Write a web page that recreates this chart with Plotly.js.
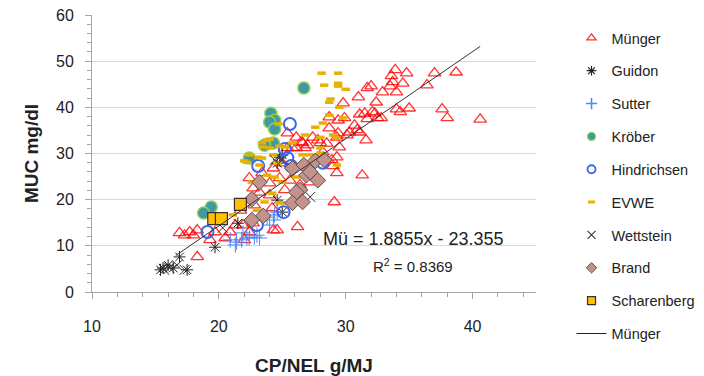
<!DOCTYPE html>
<html><head><meta charset="utf-8">
<script src="https://cdn.plot.ly/plotly-3.0.1.min.js"></script>
<style>html,body{margin:0;padding:0;background:#fff}#chart{width:704px;height:376px}</style>
</head><body><div id="chart"></div>
<script>
// ---- data ----
const mungerX = [33.9,33.6,34.8,37.0,38.7,33.7,34.5,33.5,34.0,32.9,31.7,32.0,36.4,31.0,32.4,29.8,34.0,35.0,37.6,38.0,40.6,31.1,31.5,32.3,32.8,29.4,29.9,28.7,30.7,31.6,29.4,29.3,30.1,29.5,30.9,30.3,28.5,27.8,27.0,26.1,25.4,25.8,28.2,29.3,28.9,29.3,31.3,29.0,29.1,26.2,31.7,31.1,32.5,34.3,32.1,28.7,26.5,26.8,26.1,25.4,26.6,28.0,27.4,
  16.9,17.7,18.0,18.3,17.3,18.3,19.7,20.9,20.5,21.3,21.9,22.7,22.4,24.6,24.3,23.2,24.2,24.0,22.7,24.0,24.8,23.4,24.3,22.4,25.0,25.6,26.4,25.2,27.2,21.7,22.8,23.4,22.0,19.3];
const mungerY = [48.1,46.8,47.4,47.4,47.6,45.5,45.2,44.6,43.3,43.3,44.2,44.6,44.8,42.2,41.1,40.9,39.6,39.8,39.6,37.7,37.4,38.5,38.7,38.7,37.7,37.2,37.7,37.9,36.1,32.9,34.4,33.5,34.0,31.4,35.1,34.6,32.2,32.9,31.8,33.5,34.4,31.2,30.3,29.2,28.6,25.8,25.3,27.3,19.5,14.1,37.5,34.6,37.7,39.0,39.0,35.5,32.5,31.2,31.2,31.2,32.3,32.3,33.5,
  12.8,13.0,12.3,13.4,12.3,7.6,13.0,13.0,11.7,14.5,14.5,14.9,13.0,13.4,13.4,21.6,18.2,21.0,22.5,23.6,24.7,25.8,26.8,24.7,27.9,24.2,23.2,22.1,23.8,17.7,18.8,16.7,11.3,11.3];

const guidonX = [15.6,16.0,16.4,16.9,17.5,15.4,19.7,21.5,24.8,24.6,25.0,24.6,25.0];
const guidonY = [5.2,5.8,5.2,7.6,4.8,4.8,9.7,14.9,29.2,27.9,29.7,19.9,17.3];

const sutterX = [20.9,21.3,21.4,21.8,22.2,22.4,22.8,23.2,21.9,23.0,23.8,24.0,24.4,24.6,24.3];
const sutterY = [11.3,10.2,10.8,11.3,11.7,11.7,11.9,11.7,12.8,12.3,16.2,14.5,16.7,17.3,15.6];

const kroeberX = [26.7,24.1,24.4,24.0,24.4,24.3,23.6,22.4,19.4,18.8];
const kroeberY = [44.2,38.7,37.2,36.8,35.3,32.3,31.8,29.0,18.4,17.1];

const hindrichsenX = [25.6,25.2,23.1,25.7,28.2,25.4,19.1,23.0,25.1];
const hindrichsenY = [36.4,31.0,27.3,27.3,28.0,29.0,13.0,14.5,17.3];

const evweX = [28.1,29.4,28.3,29.4,29.4,30.0,28.8,28.7,29.5,28.7,29.8,28.2,27.6,26.8,28.0,29.0,29.3,25.8,26.6,28.0,29.3,24.7,23.8,23.4,24.8,24.0,23.5,25.2,22.4,22.2,23.2,23.4,24.3,24.6,28.0,24.0,23.1,22.0,23.8,24.4,22.6,23.6,23.0,25.2,21.1,24.2,24.8,25.0,27.2,26.1];
const evweY = [47.4,47.4,44.8,45.2,44.6,43.9,41.8,41.1,40.0,38.3,37.7,36.6,35.7,34.0,33.5,34.0,33.3,32.3,29.7,31.2,27.5,36.4,32.9,32.3,31.6,31.2,31.4,31.4,29.7,28.1,27.5,29.0,29.7,27.9,30.1,33.1,29.2,28.4,25.3,24.9,23.8,19.5,17.7,19.3,16.7,21.4,19.3,23.8,29.7,24.9];

const wettsteinX = [15.7,16.1,16.7,17.3,27.2,24.4,25.0,20.3];
const wettsteinY = [4.8,5.2,5.8,4.8,20.6,28.6,28.6,13.9];

const brandX = [23.2,22.6,23.5,22.6,25.8,26.7,27.6,28.3,27.8,26.9,26.4,26.1,25.8,26.6,27.2];
const brandY = [23.8,20.1,16.5,15.6,26.8,27.5,28.4,28.6,24.2,25.3,22.1,21.6,19.3,19.5,26.0];

const scharenbergX = [21.7,19.6,20.2];
const scharenbergY = [19.0,15.9,15.9];

const trendX = [16.6,40.6];
const trendY = [7.9,53.2];

const seriesNames = ['Münger','Guidon','Sutter','Kröber','Hindrichsen','EVWE','Wettstein','Brand','Scharenberg'];
const trendName = 'Münger';
const xTicks = [10,20,30,40];
const yTicks = [0,10,20,30,40,50,60];
const eqText = "Mü = 1.8855x - 23.355";
const r2Text = "R<sup>2</sup> = 0.8369";

// ---- styles ----
const FONT = "Liberation Sans, Arial, sans-serif";
const styles = [
  {symbol:'triangle-up-open', size:11, color:'rgba(255,0,0,0.8)', line:{width:1.3}},
  {symbol:'asterisk-open', size:10, color:'#222', line:{width:1, color:'#222'}},
  {symbol:'cross-thin-open', size:11, color:'#4f86f7', line:{width:1, color:'#4f86f7'}},
  {symbol:'circle', size:12, color:'#3f98a8', line:{width:1.5, color:'#92d050'}},
  {symbol:'circle-open', size:12, color:'#3c64f0', line:{width:2}},
  {symbol:'line-ew-open', size:6, color:'#e8b000', line:{width:3.5, color:'#e8b000'}},
  {symbol:'x-thin-open', size:10, color:'#333', line:{width:1, color:'#333'}},
  {symbol:'diamond', size:12, color:'#c4928b', line:{width:1, color:'#555'}},
  {symbol:'square', size:12, color:'#ffc000', line:{width:1.2, color:'#333'}}
];
const legendSizes = [8, 8, 8, 8, 8, 5, 8, 8, 8];
const legendLineW = [1.3, 1.2, 1.6, 1.2, 1.8, 3, 1.1, 1, 1.2];
const xs = [mungerX,guidonX,sutterX,kroeberX,hindrichsenX,evweX,wettsteinX,brandX,scharenbergX];
const ys = [mungerY,guidonY,sutterY,kroeberY,hindrichsenY,evweY,wettsteinY,brandY,scharenbergY];

const traces = [];
seriesNames.forEach((n, i) => {
  traces.push({type:'scatter', mode:'markers', name:n, x:xs[i], y:ys[i], marker:styles[i],
               showlegend:false, cliponaxis:false, hoverinfo:'skip'});
});
traces.push({type:'scatter', mode:'lines', name:trendName, x:trendX, y:trendY,
             line:{color:'#333', width:1}, showlegend:false});
// legend-only entries (smaller symbols, as in the reference legend)
seriesNames.forEach((n, i) => {
  const m = JSON.parse(JSON.stringify(styles[i]));
  m.size = legendSizes[i];
  m.line.width = legendLineW[i];
  traces.push({type:'scatter', mode:'markers', name:n, x:[null], y:[null], marker:m,
               legendgroup:'g'+i, showlegend:true});
});
traces.push({type:'scatter', mode:'lines', name:trendName, x:[null], y:[null],
             line:{color:'#222', width:1}, legendgroup:'gt', showlegend:true});

const layout = {
  width:704, height:376,
  margin:{l:92, r:168, t:15, b:84, autoexpand:false},
  paper_bgcolor:'#fff', plot_bgcolor:'#fff',
  font:{family:FONT, size:16, color:'#222'},
  showlegend:true,
  legend:{x:1.08, xanchor:'left', y:0.975, yanchor:'top', traceorder:'grouped', tracegroupgap:11,
          maxheight:370,
          font:{family:FONT, size:14.5, color:'#222'}, bgcolor:'rgba(0,0,0,0)', itemsizing:'trace'},
  xaxis:{range:[10,45], tickvals:xTicks, ticks:'outside', ticklen:6, tickcolor:'#a6a6a6',
         showline:true, linecolor:'#a6a6a6', linewidth:1, showgrid:false, zeroline:false,
         ticklabelstandoff:14, tickfont:{family:FONT, size:16, color:'#222'},
         minor:{dtick:2, ticks:'outside', ticklen:4, tickcolor:'#a6a6a6', showgrid:false},
         title:{text:'<b>CP/NEL g/MJ</b>', font:{family:FONT, size:19, color:'#222'}, standoff:24}},
  yaxis:{range:[0,60], tickvals:yTicks, ticks:'outside', ticklen:6, tickcolor:'#a6a6a6',
         showline:true, linecolor:'#a6a6a6', linewidth:1, showgrid:true, gridcolor:'#d9d9d9', gridwidth:1.3,
         zeroline:false, ticklabelstandoff:8, tickfont:{family:FONT, size:16, color:'#222'},
         minor:{dtick:2, ticks:'outside', ticklen:4, tickcolor:'#a6a6a6', showgrid:false},
         title:{text:'<b>MUC mg/dl</b>', font:{family:FONT, size:19, color:'#222'}, standoff:12}},
  annotations:[
    {xref:'paper', yref:'paper', x:(413-92)/444, y:(292-239)/277, xanchor:'center', yanchor:'middle',
     text:eqText, showarrow:false, font:{family:FONT, size:18, color:'#222'}},
    {xref:'paper', yref:'paper', x:(413-92)/444, y:(292-265)/277, xanchor:'center', yanchor:'middle',
     text:r2Text, showarrow:false, font:{family:FONT, size:15, color:'#222'}}
  ]
};
Plotly.newPlot('chart', traces, layout, {displayModeBar:false, staticPlot:true});
</script>
</body></html>
